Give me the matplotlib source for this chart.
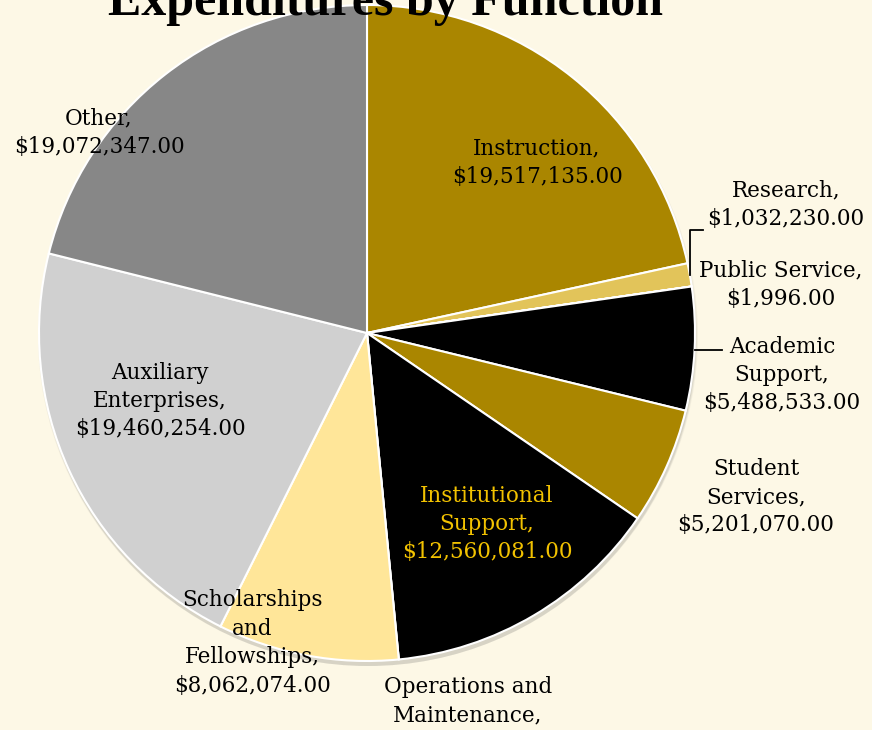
import matplotlib.pyplot as plt
from matplotlib.patches import Circle

# expenditure data (Operations and Maintenance value is cut off in the source)
categories = ["Instruction", "Research", "Public Service", "Academic\nSupport",
              "Student\nServices", "Institutional\nSupport", "Operations and\nMaintenance",
              "Scholarships\nand\nFellowships", "Auxiliary\nEnterprises", "Other"]
amounts = [19517135, 1032230, 1996, 5488533, 5201070, 12560081, 0,
           8062074, 19460254, 19072347]
colors = ["#AA8600", "#E2C45A", "#C9A227", "#000000", "#AA8600", "#000000",
          "#000000", "#FFE699", "#D0D0D0", "#878787"]

# label centres in pixel coords (x, y from top) and text colour
label_pos = [(537, 163), (786, 205), (781, 285), (782, 375), (756, 497),
             (487, 524), (468, 715), (252, 643), (160, 401), (99, 133)]
label_col = ["black"] * 5 + ["#F2C200"] + ["black"] * 4

W, H = 872, 730
bg = "#FDF8E6"

fig = plt.figure(figsize=(W / 100, H / 100), dpi=100, facecolor=bg)
ax = fig.add_axes([0, 0, 1, 1])

cx, cy, r = 367, H - 333, 328

# soft shadow under the pie
for i, a in enumerate([0.06, 0.08, 0.10]):
    ax.add_patch(Circle((cx + 1, cy - 3 - i), r + 2 - i, color="#555555", alpha=a, lw=0, zorder=0))

ax.pie(amounts, colors=colors, startangle=90, counterclock=False,
       center=(cx, cy), radius=r, frame=True,
       wedgeprops=dict(edgecolor="white", linewidth=1.5))
ax.set_xlim(0, W)
ax.set_ylim(0, H)
ax.set_aspect("equal")
ax.axis("off")

for cat, amt, (px, py), col in zip(categories, amounts, label_pos, label_col):
    txt = f"{cat},\n${amt:,.2f}"
    ax.text(px, H - py, txt, ha="center", va="center", fontsize=15.5,
            family="DejaVu Serif", color=col, linespacing=1.38, zorder=5)

# leader lines for the small slices
ax.plot([690, 690, 703], [H - 275, H - 230, H - 230], color="black", lw=1.3)
ax.plot([695, 722], [H - 350, H - 350], color="black", lw=1.3)

fig.text(385 / W, 1 - 15 / H, "Expenditures by Function", ha="center", va="baseline",
         fontsize=36, fontweight="bold", family="Liberation Serif")

fig.savefig("out.png", dpi=100, facecolor=bg)
